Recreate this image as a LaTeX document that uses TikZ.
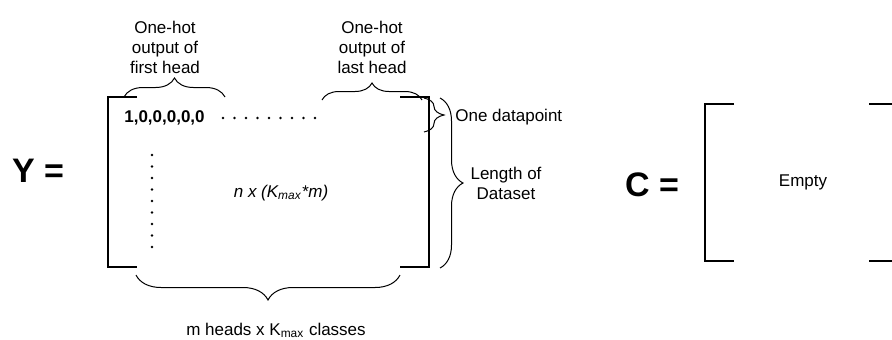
\documentclass[tikz,border=0pt]{standalone}
\usepackage{fontspec}
\setmainfont{Liberation Sans}
\usetikzlibrary{positioning,calc,decorations.pathreplacing}

\begin{document}
\begin{tikzpicture}[
  x=0.5pt, y=-0.5pt,
  lbl/.style={align=center, inner sep=0pt, font=\fontsize{8.5}{10}\selectfont},
  eqn/.style={inner sep=0pt, font=\fontsize{17}{20}\selectfont\bfseries},
  bracket/.style={draw=black, line width=0.6pt},
  curly/.style={draw=black, line width=0.5pt, decorate, decoration={brace, amplitude=#1}},
  dot/.style={fill=black, circle, inner sep=0pt, minimum size=1.3pt}
]
  \useasboundingbox (0,0) rectangle (892,339);

  % left side: Y matrix
  \node[eqn] (yeq) at (38,171) {Y =};
  \draw[bracket] (137,97) -| (108,267) -- (137,267);
  \draw[bracket] (400,97) -| (429,267) -- (400,267);

  \node[lbl, font=\fontsize{8.5}{10}\selectfont\bfseries] (row) at (164.5,118) {1,0,0,0,0,0};
  \foreach \i in {0,...,8}
    \node[dot] (hdot\i) at (223+\i*11.5,118) {};
  \foreach \i in {0,...,8}
    \node[dot] (vdot\i) at (152,155+\i*11.5) {};
  \node[lbl, font=\fontsize{8.5}{10}\selectfont\itshape] (dims) at (281,193) {n x (K\textsubscript{max}*m)};

  % braces round Y
  \coordinate (fh-a) at (124,97);
  \coordinate (fh-b) at (225,97);
  \coordinate (lh-a) at (322,100);
  \coordinate (lh-b) at (422,100);
  \coordinate (dp-a) at (424,98);
  \coordinate (dp-b) at (424,132);
  \coordinate (ld-a) at (440,98);
  \coordinate (ld-b) at (440,268);
  \coordinate (mh-a) at (400,275);
  \coordinate (mh-b) at (136,275);
  \draw[curly=9.5pt] (fh-a) -- (fh-b);
  \draw[curly=8.5pt] (lh-a) -- (lh-b);
  \draw[curly=10pt] (dp-a) -- (dp-b);
  \draw[curly=11.5pt] (ld-a) -- (ld-b);
  \draw[curly=12.5pt] (mh-a) -- (mh-b);

  \node[lbl] (firsthead) at (165,47) {One-hot\\output of\\first head};
  \node[lbl] (lasthead) at (372,47) {One-hot\\output of\\last head};
  \node[lbl, anchor=west] (onedp) at (455,117) {One datapoint};
  \node[lbl] (lendata) at (506,183) {Length of\\Dataset};
  \node[lbl] (heads) at (276,330) {m heads x K\textsubscript{max} classes};

  % right side: C matrix
  \node[eqn] (ceq) at (652,185) {C =};
  \draw[bracket] (734,104) -| (705,261) -- (734,261);
  \draw[bracket] (869,104) -- (892,104);
  \draw[bracket] (869,261) -- (892,261);
  \node[lbl] (empty) at (803,182) {Empty};
\end{tikzpicture}
\end{document}
